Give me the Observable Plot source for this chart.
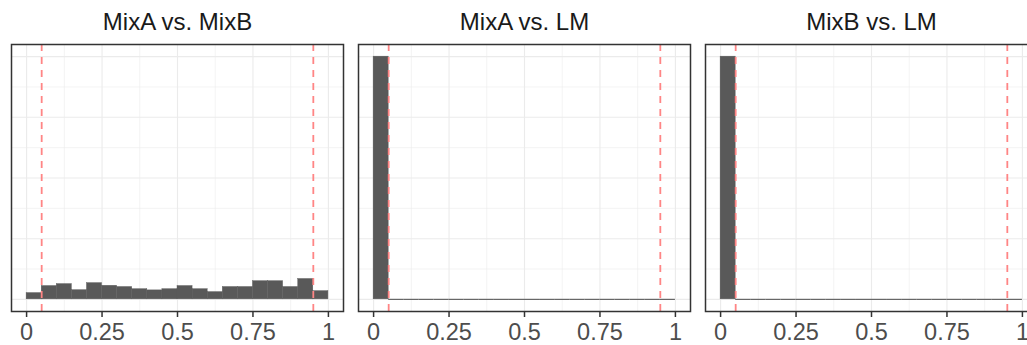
<!DOCTYPE html>
<html>
<head>
<meta charset="utf-8">
<script src="https://cdn.jsdelivr.net/npm/d3@7"></script>
<script src="https://cdn.jsdelivr.net/npm/@observablehq/plot@0.6"></script>
<style>
  html, body { margin: 0; padding: 0; background: #fff; }
  #chart { width: 1027px; height: 345px; overflow: hidden; }
  #chart svg { max-width: none !important; }
</style>
</head>
<body>
<div id="chart"></div>
<script>
// Panels (facets)
const panels = ["MixA vs. MixB", "MixA vs. LM", "MixB vs. LM"];
// Histogram bin edges (bin width 0.05)
const binStart = [0, 0.05, 0.1, 0.15, 0.2, 0.25, 0.3, 0.35, 0.4, 0.45, 0.5, 0.55, 0.6, 0.65, 0.7, 0.75, 0.8, 0.85, 0.9, 0.95];
const binEnd   = [0.05, 0.1, 0.15, 0.2, 0.25, 0.3, 0.35, 0.4, 0.45, 0.5, 0.55, 0.6, 0.65, 0.7, 0.75, 0.8, 0.85, 0.9, 0.95, 1];
// Counts per bin
const countsMixAvsMixB = [26, 55, 63, 38, 67, 56, 51, 42, 37, 42, 55, 42, 30, 51, 51, 75, 75, 51, 84, 34];
const countsMixAvsLM   = [1000, 0, 0, 0, 0, 0, 0, 0, 0, 0, 0, 0, 0, 0, 0, 0, 0, 0, 0, 0];
const countsMixBvsLM   = [1000, 0, 0, 0, 0, 0, 0, 0, 0, 0, 0, 0, 0, 0, 0, 0, 0, 0, 0, 0];
// Reference lines
const cutoffs = [0.05, 0.95];
// Axis ticks
const xTicks = [0, 0.25, 0.5, 0.75, 1];
const xTickLabels = ["0", "0.25", "0.5", "0.75", "1"];
const xMinor = [0.125, 0.375, 0.625, 0.875];
const yMajor = [0, 250, 500, 750, 1000];
const yMinor = [125, 375, 625, 875];

const countsByPanel = [countsMixAvsMixB, countsMixAvsLM, countsMixBvsLM];
const bins = [];
panels.forEach((p, i) => {
  countsByPanel[i].forEach((c, j) => {
    bins.push({panel: p, x0: binStart[j], x1: binEnd[j], count: c});
  });
});

const gridColor = "#EBEBEB";
const barColor = "#595959";
const plot = Plot.plot({
  width: 1045,
  height: 345,
  marginLeft: 10,
  marginRight: 6,
  marginTop: 44,
  marginBottom: 34,
  style: {fontFamily: "'Liberation Sans', Arial, Helvetica, sans-serif", fontSize: "23px", background: "#fff", overflow: "visible", maxWidth: "none"},
  fx: {domain: panels, paddingInner: 0.0431, paddingOuter: 0, axis: null, label: null},
  x: {domain: [-0.05, 1.05], axis: null},
  y: {domain: [-50, 1050], axis: null},
  marks: [
    Plot.ruleX(xMinor, {stroke: gridColor, strokeWidth: 0.6}),
    Plot.ruleY(yMinor, {stroke: gridColor, strokeWidth: 0.6}),
    Plot.ruleX(xTicks, {stroke: gridColor, strokeWidth: 1.1}),
    Plot.ruleY(yMajor, {stroke: gridColor, strokeWidth: 1.1}),
    Plot.rectY(bins.filter(d => d.count > 0), {fx: "panel", x1: "x0", x2: "x1", y1: 0, y2: "count", fill: barColor, stroke: barColor, strokeWidth: 0.4, inset: 0}),
    Plot.ruleY(bins.filter(d => d.count === 0), {fx: "panel", x1: "x0", x2: "x1", y: 0, stroke: barColor, strokeWidth: 1.1}),
    Plot.ruleX(cutoffs, {stroke: "#FF8585", strokeWidth: 1.8, strokeDasharray: "7,6"}),
    Plot.frame({stroke: "#333333", strokeWidth: 1.5}),
    Plot.axisX(xTicks, {
      anchor: "bottom",
      tickSize: 6,
      tickPadding: 6,
      strokeWidth: 1.5,
      stroke: "#333333",
      fill: "#4D4D4D",
      fontSize: 23.5,
      tickFormat: (d) => xTickLabels[xTicks.indexOf(d)],
      label: null
    }),
    Plot.text(panels, {
      fx: (d) => d,
      text: (d) => d,
      frameAnchor: "top",
      lineAnchor: "bottom",
      dy: -14.5,
      fontSize: 24,
      fill: "#1A1A1A"
    })
  ]
});
document.getElementById("chart").appendChild(plot);
</script>
</body>
</html>
